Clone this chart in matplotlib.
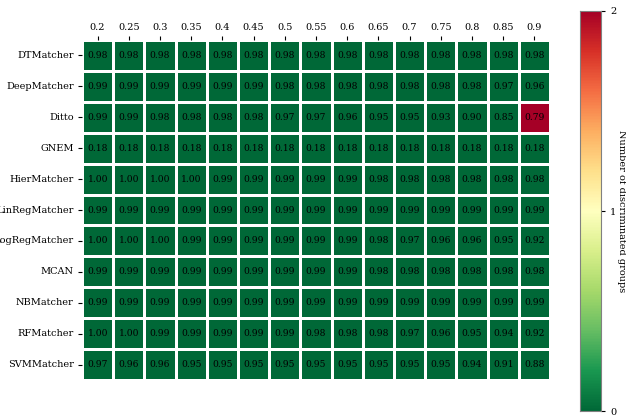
import matplotlib
matplotlib.use("Agg")
import matplotlib.pyplot as plt
import numpy as np
import seaborn as sns

plt.rcParams['font.family'] = ['DejaVu Serif']

thresholds = ["0.2", "0.25", "0.3", "0.35", "0.4", "0.45", "0.5", "0.55",
              "0.6", "0.65", "0.7", "0.75", "0.8", "0.85", "0.9"]
matchers = ["DTMatcher", "DeepMatcher", "Ditto", "GNEM", "HierMatcher",
            "LinRegMatcher", "LogRegMatcher", "MCAN", "NBMatcher",
            "RFMatcher", "SVMMatcher"]

dt_matcher = [0.98] * 15
deep_matcher = [0.99, 0.99, 0.99, 0.99, 0.99, 0.99, 0.98, 0.98, 0.98, 0.98, 0.98, 0.98, 0.98, 0.97, 0.96]
ditto = [0.99, 0.99, 0.98, 0.98, 0.98, 0.98, 0.97, 0.97, 0.96, 0.95, 0.95, 0.93, 0.90, 0.85, 0.79]
gnem = [0.18] * 15
hier_matcher = [1.00, 1.00, 1.00, 1.00, 0.99, 0.99, 0.99, 0.99, 0.99, 0.98, 0.98, 0.98, 0.98, 0.98, 0.98]
linreg_matcher = [0.99] * 15
logreg_matcher = [1.00, 1.00, 1.00, 0.99, 0.99, 0.99, 0.99, 0.99, 0.99, 0.98, 0.97, 0.96, 0.96, 0.95, 0.92]
mcan = [0.99, 0.99, 0.99, 0.99, 0.99, 0.99, 0.99, 0.99, 0.99, 0.98, 0.98, 0.98, 0.98, 0.98, 0.98]
nb_matcher = [0.99] * 15
rf_matcher = [1.00, 1.00, 0.99, 0.99, 0.99, 0.99, 0.99, 0.98, 0.98, 0.98, 0.97, 0.96, 0.95, 0.94, 0.92]
svm_matcher = [0.97, 0.96, 0.96, 0.95, 0.95, 0.95, 0.95, 0.95, 0.95, 0.95, 0.95, 0.95, 0.94, 0.91, 0.88]

# number of discriminated groups (colour)
discriminated_ditto = [0, 0, 0, 0, 0, 0, 0, 0, 0, 0, 0, 0, 0, 0, 2]

values = np.array([dt_matcher, deep_matcher, ditto, gnem, hier_matcher,
                   linreg_matcher, logreg_matcher, mcan, nb_matcher,
                   rf_matcher, svm_matcher])
groups = np.zeros_like(values)
groups[matchers.index("Ditto")] = discriminated_ditto

fig = plt.figure(figsize=(6.26, 4.15), dpi=100)
ax = fig.add_axes([82/626, 35/415, 468/626, 340/415])
cax = fig.add_axes([580/626, 4/415, 21/626, 400/415])

sns.heatmap(groups, ax=ax, cbar_ax=cax, cmap="RdYlGn_r", vmin=0, vmax=2,
            annot=values, fmt=".2f", annot_kws={"color": "black", "fontsize": 6.6},
            linewidths=2, linecolor="white",
            xticklabels=thresholds, yticklabels=matchers,
            cbar_kws={"ticks": [0, 1, 2]})
ax.xaxis.tick_top()
ax.tick_params(axis='x', labelsize=7, rotation=0, length=3, pad=3)
ax.tick_params(axis='y', labelsize=7, rotation=0, length=3, pad=3)
cax.tick_params(labelsize=7, length=3)
cax.set_ylabel("Number of discriminated groups", rotation=270, labelpad=7, fontsize=7)
for s in cax.spines.values():
    s.set_visible(True)
    s.set_edgecolor("gray")
fig.savefig("out.png", dpi=100)
